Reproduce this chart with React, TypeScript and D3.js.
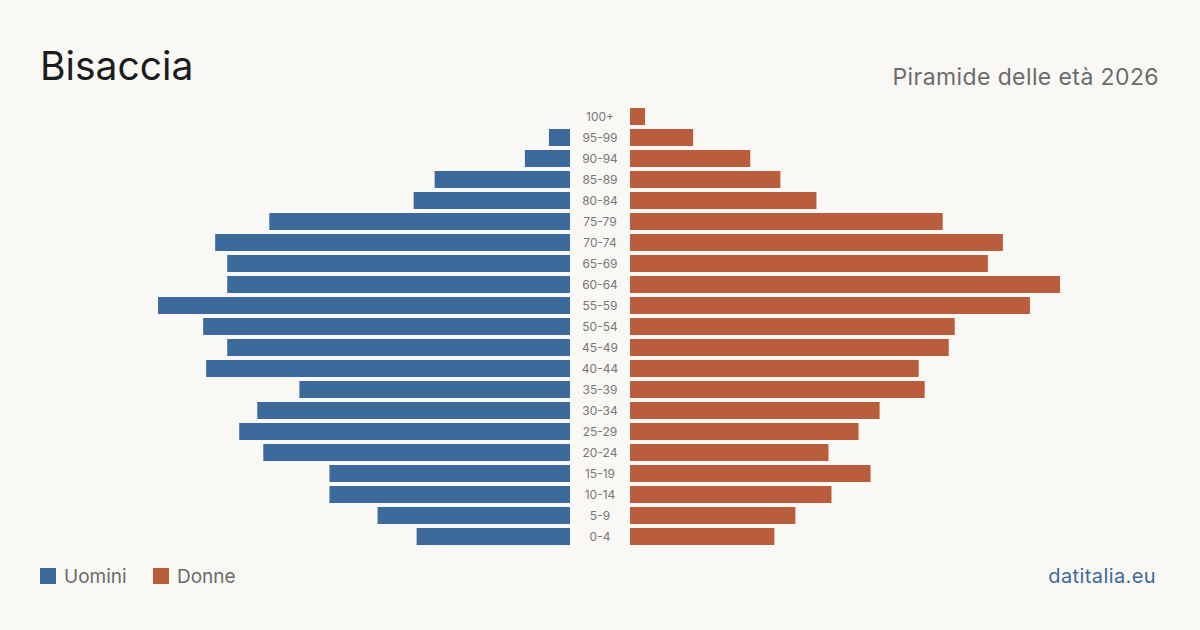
import * as d3 from "d3";

const ageGroups = [
  "100+", "95-99", "90-94", "85-89", "80-84", "75-79", "70-74", "65-69",
  "60-64", "55-59", "50-54", "45-49", "40-44", "35-39", "30-34", "25-29",
  "20-24", "15-19", "10-14", "5-9", "0-4",
];

const uomini = [
  0, 7, 15, 45, 52, 100, 118, 114, 114, 137, 122, 114, 121, 90, 104, 110,
  102, 80, 80, 64, 51,
];

const donne = [
  5, 21, 40, 50, 62, 104, 124, 119, 143, 133, 108, 106, 96, 98, 83, 76, 66,
  80, 67, 55, 48,
];

const WIDTH = 1200;
const HEIGHT = 630;
const CENTER = 600;
const GAP = 30;
const FONT = "Inter, 'Noto Sans', sans-serif";

const BLUE = "#3b6a9b";
const ORANGE = "#b95d3c";

export default function App() {
  const maxVal = d3.max([...uomini, ...donne]) ?? 1;

  // bar length from the centre gap outwards
  const len = d3.scaleLinear().domain([0, maxVal]).range([0, 430]);

  const y = d3
    .scaleBand()
    .domain(ageGroups)
    .range([106, 547])
    .paddingInner(4 / 21)
    .paddingOuter(2 / 21);

  return (
    <div style={{ position: "fixed", left: 0, top: 0 }}>
      <svg width={WIDTH} height={HEIGHT} style={{ display: "block" }}>
        <rect width={WIDTH} height={HEIGHT} fill="#f9f8f4" />

        <text x={40} y={80} fontFamily={FONT} fontSize={39} fill="#1c1c1c">
          Bisaccia
        </text>
        <text
          x={1159}
          y={85}
          textAnchor="end"
          fontFamily={FONT}
          fontSize={23}
          letterSpacing={0.4}
          fill="#6b6b6b"
        >
          Piramide delle età 2026
        </text>

        {ageGroups.map((g, i) => {
          const yy = y(g)!;
          const bw = y.bandwidth();
          const wm = len(uomini[i]);
          const wd = len(donne[i]);
          return (
            <g key={g}>
              {uomini[i] > 0 && (
                <rect
                  x={CENTER - GAP - wm}
                  y={yy}
                  width={wm}
                  height={bw}
                  fill={BLUE}
                />
              )}
              {donne[i] > 0 && (
                <rect
                  x={CENTER + GAP}
                  y={yy}
                  width={wd}
                  height={bw}
                  fill={ORANGE}
                />
              )}
              <text
                x={CENTER}
                y={yy + bw / 2}
                dy="0.35em"
                textAnchor="middle"
                fontFamily={FONT}
                fontSize={12}
                fill="#777"
              >
                {g}
              </text>
            </g>
          );
        })}

        {/* legend */}
        <rect x={40} y={568} width={16} height={16} fill={BLUE} />
        <text x={64} y={583} fontFamily={FONT} fontSize={19} fill="#6b6b6b">
          Uomini
        </text>
        <rect x={153} y={568} width={16} height={16} fill={ORANGE} />
        <text x={177} y={583} fontFamily={FONT} fontSize={19} fill="#6b6b6b">
          Donne
        </text>

        <text
          x={1156}
          y={583}
          textAnchor="end"
          fontFamily={FONT}
          fontSize={20}
          letterSpacing={0.4}
          fill={BLUE}
        >
          datitalia.eu
        </text>
      </svg>
    </div>
  );
}
